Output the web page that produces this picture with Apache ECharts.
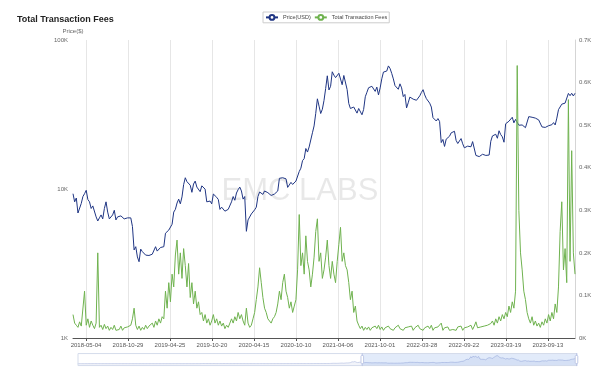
<!DOCTYPE html>
<html>
<head>
<meta charset="utf-8">
<script src="https://cdn.jsdelivr.net/npm/echarts@6/dist/echarts.min.js"></script>
<style>
  html, body { margin: 0; padding: 0; background: #fff; }
  #fees { width: 600px; height: 376px; }
</style>
</head>
<body>
<div id="fees"></div>
<script>
// weekly samples, first one 2010-07-17 (only drawn in the zoom slider shadow)
var priceEarly = [
  0.05,0.07,0.07,0.07,0.07,0.07,0.06,0.06,0.06,0.06,0.06,0.06,0.09,0.1,0.1,0.19,0.3,0.28,0.27,0.28,0.2,0.23,0.25,0.25,
  0.3,0.32,0.4,0.42,0.45,0.9,1.05,0.9,0.95,0.9,0.9,0.8,0.85,0.8,0.75,1.1,1.7,3.5,3.6,7,6.5,8.5,18,25,16,17,15,14.5,14,14,13.5,9,10,11,8.5,8,5,5,5.5,5,4.2,3.5,3.2,3.3,3,3,2.3,2.5,2.8,3,3.2,3.8,4.7,
  6.8,6.5,6.2,5.5,5.8,5.8,4.5,4.8,4.8,5,5.3,4.6,4.9,4.8,4.9,5.2,4.9,5.1,4.9,5.1,5.1,5.2,5.5,6.4,6.4,6.6,6.8,7.6,8.8,8.9,11,11.5,8,10.6,10.2,11,11.8,12.3,12.4,12.7,11.9,11.7,10.4,10.6,10.9,11.8,12.3,12.6,13.4,13.3,13.3,13.5,
  13.4,14.2,15.6,17.5,20.4,23.6,27,30,34,46,47,70,93,143,94,127,128,113,117,123,131,129,109,100,108,90,75,94,88,96,104,106,100,111,135,125,127,127,129,123,133,165,190,205,330,440,800,1130,800,870,650,730,
  860,900,830,850,820,700,650,600,560,630,640,580,490,460,420,500,460,430,450,450,520,620,650,600,590,600,630,630,630,600,590,590,500,510,500,480,480,410,400,330,370,390,350,330,340,400,360,380,370,350,320,320,
  290,270,200,250,220,225,250,245,255,275,280,260,250,255,235,225,225,235,240,235,240,230,225,230,245,250,260,290,275,290,280,260,260,230,230,235,230,232,235,238,245,270,280,310,380,330,325,355,390,435,455,420,
  430,450,390,390,380,375,390,440,430,400,410,410,415,420,420,430,445,450,460,455,440,530,570,590,750,660,700,650,665,655,655,580,585,580,570,600,625,610,600,610,615,640,650,715,705,705,735,740,765,775,790,915,965,
  900,820,920,920,1020,1000,1050,1150,1270,1200,970,970,1080,1190,1180,1240,1350,1560,1750,2040,2200,2520,2950,2650,2590,2430,2510,1930,2830,2760,3230,4060,4190,4350,4580,4330,3690,3690,4360,4600,5680,6010,5730,7400,6350,7790,8760,10900,15000,19500,14000,12900,
  17200,14000,11500,11300,8300,8100,11000,9700,11500
];

// weekly samples from 2018-03-10 to 2024-01-06
var priceWeekly = [
  9300,8200,8700,6900,7000,8000,8900,9300,9800,8500,8200,7400,7700,7500,6500,6100,6400,6700,6300,7400,
  8200,7000,6300,6400,6700,7200,6200,6500,6700,6600,6600,6300,6400,6400,6400,6400,5600,3900,4100,3500,
  3250,3950,3800,3850,3600,3700,3580,3500,3650,3650,4100,3830,3950,4050,4000,4100,5050,5070,5300,5200,
  5800,7000,7300,8050,8550,7950,8850,10700,11900,11200,11400,10600,9500,10800,11300,10300,10100,9600,10500,10350,
  9980,8200,8150,8300,7950,9250,9300,8800,8500,7300,7550,7500,7100,7150,7300,7400,8200,8900,8400,9400,
  9900,10300,9700,8550,8900,5200,6200,6250,6800,6900,7250,7550,8900,9550,9400,9200,9700,9650,9450,9350,
  9050,9100,9250,9170,9700,11800,11650,11900,11650,11700,10250,10450,11080,10730,10550,11300,11350,13100,13800,15500,
  16000,18700,17700,19150,18800,23850,26500,32200,40300,36000,32100,34300,39300,47200,57500,46200,48900,61200,58100,55900,
  57100,59800,61000,50100,57800,58800,46500,37500,34700,35500,35500,35600,32300,34700,33800,31500,34200,41600,44600,47800,
  49300,48900,50000,45200,48300,42800,47700,54900,60900,61300,61900,67000,64400,59700,54800,49400,49400,46700,50800,47700,
  41700,43100,35000,37900,41400,42200,40100,39100,39400,38800,42200,44500,46400,42800,40400,39700,37700,35500,30100,29400,
  28600,29700,28400,20500,21500,19300,21600,21200,22600,23800,23200,24400,21200,20200,19800,21800,20100,18900,19300,19400,
  19100,19200,20800,21300,16800,16700,16500,16900,17100,16800,16800,16600,16900,20900,22700,23000,23300,21900,24600,23200,
  22400,20600,27400,27500,28500,27900,30300,27800,29300,28900,26800,26900,26900,27200,25800,26300,30600,30600,30300,30300,
  29900,29300,29100,29400,26100,26000,25900,25900,26600,26600,27000,27900,26900,29900,34100,35000,37100,36600,37700,38700,
  43800,42300,43900,42100,43900
];

// weekly samples from 2018-03-10 to 2024-01-06
var feesWeekly = [
  55,35,30,25,38,28,30,110,30,45,
  25,40,30,22,35,200,25,30,20,32,
  22,28,18,25,20,30,18,22,20,28,
  18,24,20,26,22,30,45,70,30,20,
  28,18,25,20,30,22,28,25,35,25,
  40,30,45,35,50,45,110,70,130,85,
  150,120,195,230,150,200,140,210,170,120,
  175,95,130,80,110,70,85,55,60,40,
  55,35,45,30,40,55,35,45,30,40,
  28,35,22,30,25,35,45,35,50,40,
  60,45,55,40,30,70,35,25,30,45,
  60,90,120,165,130,95,70,60,45,40,
  35,45,50,60,80,110,90,130,150,110,
  95,70,85,60,75,90,160,290,170,200,
  150,240,180,160,120,150,190,250,280,180,
  200,140,160,190,230,170,140,180,150,130,
  180,220,260,180,200,170,160,130,90,110,
  60,75,40,30,22,28,18,25,20,26,
  18,24,20,28,22,30,20,26,18,24,
  20,28,22,26,18,24,20,30,22,26,
  18,24,20,26,22,28,18,24,20,30,
  22,26,18,24,20,28,22,30,18,24,
  20,26,22,35,18,24,20,26,18,22,
  20,24,18,26,22,28,18,24,20,26,
  22,30,20,28,38,24,20,26,22,28,
  24,30,26,34,40,30,45,35,50,40,
  55,45,60,50,75,60,85,70,110,640,
  300,200,160,110,90,60,45,35,50,30,
  40,28,35,25,38,30,45,35,55,40,
  60,45,80,60,120,250,320,160,210,130,
  560,180,440,200,150
];

var firstDay = '2010-07-17';
var lastDay = '2024-01-06';
var firstLabel = '2018-05-04';
var labelStep = 178;

// daily category axis
var dates = [];
var d = new Date(firstDay + 'T00:00:00Z');
var end = new Date(lastDay + 'T00:00:00Z');
while (d <= end) {
    dates.push(d.toISOString().slice(0, 10));
    d.setUTCDate(d.getUTCDate() + 1);
}
var weeklyStart = priceEarly.length * 7;
var labelStart = dates.indexOf(firstLabel);

var priceData = priceEarly.concat(priceWeekly).map(function (v, k) { return [k * 7, v]; });
var feesData = feesWeekly.map(function (v, i) { return [weeklyStart + i * 7, v]; });

function showTick(index) {
    return (index - labelStart) % labelStep === 0;
}
function kFormat(v) {
    return (v / 1000) + 'K';
}

var chartDom = document.getElementById('fees');
var myChart = echarts.init(chartDom);
var option;

option = {
    animation: false,
    textStyle: { fontFamily: 'Liberation Sans, Arial, sans-serif' },
    title: {
        text: 'Total Transaction Fees',
        left: 12,
        top: 10,
        textStyle: { fontSize: 9, fontWeight: 'bold', color: '#222' }
    },
    legend: {
        data: ['Price(USD)', 'Total Transaction Fees'],
        left: 263,
        top: 12,
        itemWidth: 12,
        itemHeight: 6,
        itemGap: 3,
        padding: [2, 2],
        borderColor: '#ccc',
        borderWidth: 1,
        textStyle: { fontSize: 5.5, color: '#444' }
    },
    graphic: [{
        type: 'text',
        left: 'center',
        top: 176,
        z: 0,
        style: {
            text: 'EMC LABS',
            fontSize: 31,
            fontFamily: 'Liberation Sans, Arial, sans-serif',
            fill: 'rgba(0,0,0,0.09)'
        }
    }],
    grid: { left: 73, right: 25, top: 40, bottom: 38 },
    xAxis: [
        {
            type: 'category',
            data: dates,
            boundaryGap: false,
            axisLine: { lineStyle: { color: '#555' } },
            axisTick: { interval: showTick, length: 3, lineStyle: { color: '#555' } },
            axisLabel: { interval: showTick, fontSize: 6, color: '#555', margin: 4 },
            splitLine: { show: true, interval: showTick, lineStyle: { color: '#e6e6e6' } }
        }
    ],
    yAxis: [
        {
            type: 'log',
            logBase: 10,
            min: 1000,
            max: 100000,
            name: 'Price($)',
            nameGap: 6,
            nameTextStyle: { fontSize: 6, color: '#666' },
            axisLine: { show: false },
            axisTick: { show: false },
            splitLine: { show: false },
            axisLabel: { formatter: kFormat, fontSize: 6, color: '#666', margin: 5 }
        },
        {
            type: 'value',
            min: 0,
            max: 700,
            interval: 100,
            position: 'right',
            axisLine: { show: true, lineStyle: { color: '#d5d5d5' } },
            axisTick: { show: false },
            splitLine: { show: false },
            axisLabel: { formatter: kFormat, fontSize: 6, color: '#666', margin: 4 }
        }
    ],
    dataZoom: [
        {
            type: 'slider',
            xAxisIndex: 0,
            startValue: weeklyStart,
            endValue: dates.length - 1,
            left: 75,
            right: 25,
            bottom: 10,
            height: 13,
            showDetail: false,
            moveHandleSize: 0,
            brushSelect: false,
            handleSize: '100%',
            borderColor: '#d5dceb',
            fillerColor: 'rgba(160,190,240,0.3)'
        }
    ],
    series: [
        {
            name: 'Price(USD)',
            type: 'line',
            yAxisIndex: 0,
            showSymbol: false,
            symbol: 'emptyCircle',
            color: '#1f3583',
            lineStyle: { width: 1 },
            data: priceData
        },
        {
            name: 'Total Transaction Fees',
            type: 'line',
            yAxisIndex: 1,
            showSymbol: false,
            symbol: 'emptyCircle',
            color: '#6fb24f',
            lineStyle: { width: 1 },
            data: feesData
        }
    ]
};

option && myChart.setOption(option);
</script>
</body>
</html>
